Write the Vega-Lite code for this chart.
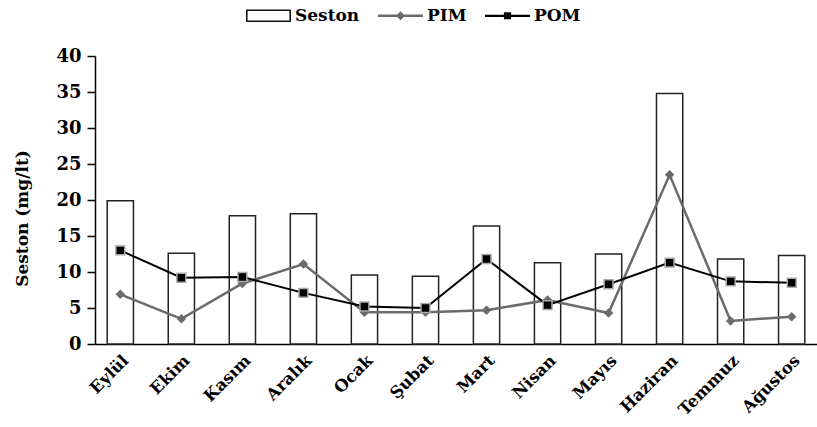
{
  "$schema": "https://vega.github.io/schema/vega-lite/v6.json",
  "autosize": "none",
  "width": 722,
  "height": 288,
  "padding": {"left": 95, "top": 56, "right": 0, "bottom": 83},
  "background": "white",
  "data": {
    "values": [
      {"Ay": "Eylül", "Seston": 19.9, "PIM": 6.9, "POM": 13.0},
      {"Ay": "Ekim", "Seston": 12.6, "PIM": 3.5, "POM": 9.2},
      {"Ay": "Kasım", "Seston": 17.8, "PIM": 8.4, "POM": 9.3},
      {"Ay": "Aralık", "Seston": 18.1, "PIM": 11.1, "POM": 7.1},
      {"Ay": "Ocak", "Seston": 9.6, "PIM": 4.4, "POM": 5.2},
      {"Ay": "Şubat", "Seston": 9.4, "PIM": 4.4, "POM": 5.0},
      {"Ay": "Mart", "Seston": 16.4, "PIM": 4.7, "POM": 11.8},
      {"Ay": "Nisan", "Seston": 11.3, "PIM": 6.1, "POM": 5.4},
      {"Ay": "Mayıs", "Seston": 12.5, "PIM": 4.3, "POM": 8.3},
      {"Ay": "Haziran", "Seston": 34.8, "PIM": 23.5, "POM": 11.3},
      {"Ay": "Temmuz", "Seston": 11.8, "PIM": 3.2, "POM": 8.7},
      {"Ay": "Ağustos", "Seston": 12.3, "PIM": 3.8, "POM": 8.5}
    ]
  },
  "encoding": {
    "x": {
      "field": "Ay", "type": "nominal", "sort": null,
      "scale": {"paddingInner": 0.57, "paddingOuter": 0.2},
      "axis": {
        "title": null, "labelAngle": -45, "labelFont": "DejaVu Serif", "labelFontWeight": "bold",
        "labelFontSize": 16.5, "labelColor": "#000", "ticks": false, "labelPadding": 8,
        "domainColor": "#000", "domainWidth": 1.5
      }
    }
  },
  "layer": [
    {
      "mark": {"type": "bar", "fill": "white", "stroke": "#222", "strokeWidth": 1.5},
      "encoding": {
        "y": {"field": "Seston", "type": "quantitative", "scale": {"domain": [0, 40]},
          "axis": {"title": "Seston (mg/lt)", "values": [0, 5, 10, 15, 20, 25, 30, 35, 40], "labelOverlap": false}}
      }
    },
    {
      "mark": {"type": "line", "color": "#6b6b6b", "strokeWidth": 2.5},
      "encoding": {"y": {"field": "PIM", "type": "quantitative", "scale": {"domain": [0, 40]},
        "axis": {"title": "Seston (mg/lt)", "values": [0, 5, 10, 15, 20, 25, 30, 35, 40], "labelOverlap": false}}}
    },
    {
      "mark": {"type": "line", "color": "#000", "strokeWidth": 2},
      "encoding": {"y": {"field": "POM", "type": "quantitative", "scale": {"domain": [0, 40]},
        "axis": {"title": "Seston (mg/lt)", "values": [0, 5, 10, 15, 20, 25, 30, 35, 40], "labelOverlap": false}}}
    },
    {
      "mark": {"type": "point", "shape": "diamond", "filled": true, "color": "#6b6b6b", "size": 90, "opacity": 1},
      "encoding": {"y": {"field": "PIM", "type": "quantitative", "scale": {"domain": [0, 40]},
        "axis": {"title": "Seston (mg/lt)", "values": [0, 5, 10, 15, 20, 25, 30, 35, 40], "labelOverlap": false}}}
    },
    {
      "mark": {"type": "point", "shape": "square", "filled": true, "fill": "#000", "stroke": "#aaa", "strokeWidth": 1.5, "size": 80, "opacity": 1},
      "encoding": {"y": {"field": "POM", "type": "quantitative", "scale": {"domain": [0, 40]},
        "axis": {"title": "Seston (mg/lt)", "values": [0, 5, 10, 15, 20, 25, 30, 35, 40], "labelOverlap": false}}}
    },
    {
      "transform": [{"filter": "false"}],
      "mark": {"type": "point", "filled": true, "opacity": 1},
      "encoding": {
        "x": {"field": "Ay", "type": "nominal"},
        "color": {
          "field": "Seri", "type": "nominal",
          "scale": {"domain": ["Seston", "PIM", "POM"], "range": ["#111", "#6b6b6b", "#000"]}
        },
        "shape": {
          "field": "Seri", "type": "nominal",
          "scale": {
            "domain": ["Seston", "PIM", "POM"],
            "range": [
              "M-1,-0.28L1,-0.28L1,0.28L-1,0.28Z M-0.93,-0.21L-0.93,0.21L0.93,0.21L0.93,-0.21Z",
              "M-1,-0.055L1,-0.055L1,0.055L-1,0.055Z M0,-0.2L0.2,0L0,0.2L-0.2,0Z",
              "M-1,-0.05L1,-0.05L1,0.05L-1,0.05Z M-0.16,-0.16L0.16,-0.16L0.16,0.16L-0.16,0.16Z"
            ]
          },
          "legend": {
            "title": null, "orient": "none", "direction": "horizontal",
            "legendX": 151, "legendY": -63, "padding": 0,
            "symbolSize": 2025, "symbolStrokeWidth": 0, "symbolOpacity": 1,
            "labelFont": "DejaVu Serif", "labelFontWeight": "bold", "labelFontSize": 17, "labelColor": "#000",
            "labelOffset": 4, "columnPadding": 18
          }
        }
      }
    }
  ],
  "config": {
    "view": {"stroke": null},
    "axisY": {
      "grid": false, "labelFont": "DejaVu Serif", "labelFontWeight": "bold", "labelFontSize": 18,
      "labelColor": "#000", "titleFont": "DejaVu Serif", "titleFontWeight": "bold", "titleFontSize": 17,
      "titleColor": "#000", "titlePadding": 24, "titleY": 162, "tickSize": 8, "tickColor": "#000", "tickWidth": 1.5,
      "domainColor": "#000", "domainWidth": 1.5, "labelPadding": 6
    }
  }
}
